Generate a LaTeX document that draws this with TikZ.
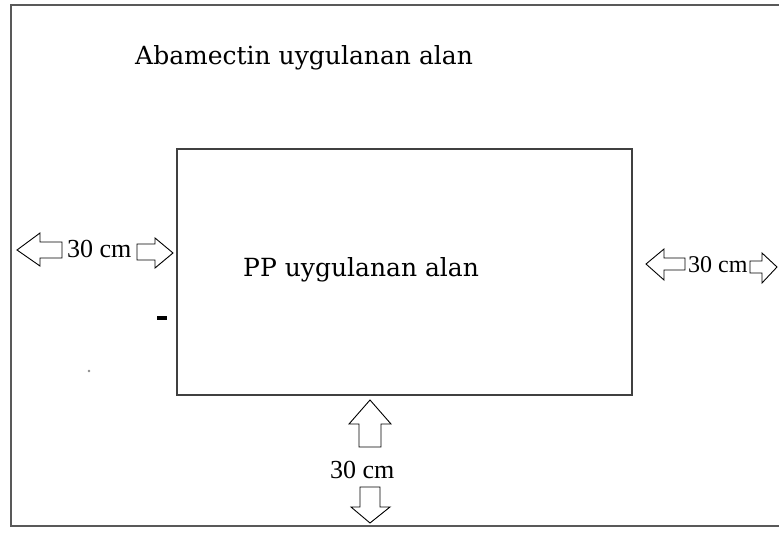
\documentclass[tikz,border=0pt]{standalone}
\usepackage{fontspec}
\setmainfont{Liberation Serif}
\newfontfamily\areafont{DejaVu Serif}
\begin{document}
\begin{tikzpicture}[x=1pt,y=-1pt,
  frame/.style={draw=black!65,line width=2.4pt},
  plot/.style={draw=black!75,line width=2pt},
  blockarrow/.style={draw=black,fill=white,line width=0.9pt,line join=miter},
  arealabel/.style={anchor=base west,inner sep=0pt,font=\areafont\fontsize{25}{30}\selectfont},
  distlabel/.style={anchor=base west,inner sep=0pt,font=\fontsize{26}{30}\selectfont}]
\useasboundingbox (0,0) rectangle (779,534);
\fill[white] (0,0) rectangle (779,534);

% treated field (outer) and the PP plot (inner)
\draw[frame] (11,5) rectangle (790,526);
\draw[plot] (177,149) rectangle (632,395);

\node[arealabel] (outer) at (135,65) {Abamectin uygulanan alan};
\node[arealabel] (inner) at (243,277) {PP uygulanan alan};

% left gap: 30 cm between the two borders
\draw[blockarrow] (62,242) -- (40,242) -- (40,233) -- (17,250) -- (40,266) -- (40,258) -- (62,258) -- cycle;
\node[distlabel] (dleft) at (67,258) {30 cm};
\draw[blockarrow] (137,244) -- (155,244) -- (155,238) -- (173,253) -- (155,268) -- (155,260) -- (137,260) -- cycle;

% right gap
\draw[blockarrow] (685,258) -- (664,258) -- (664,249) -- (646,264) -- (664,280) -- (664,270) -- (685,270) -- cycle;
\node[distlabel,font=\fontsize{24}{28}\selectfont] (dright) at (688,273) {30 cm};
\draw[blockarrow] (750,261) -- (762,261) -- (762,253) -- (777,267) -- (762,283) -- (762,273) -- (750,273) -- cycle;

% bottom gap
\draw[blockarrow] (359,447) -- (359,424) -- (349,424) -- (370,400) -- (391,424) -- (381,424) -- (381,447) -- cycle;
\node[distlabel] (dbottom) at (330,478) {30 cm};
\draw[blockarrow] (360,487) -- (360,507) -- (351,507) -- (370,523) -- (390,507) -- (380,507) -- (380,487) -- cycle;

% stray marks
\fill[black] (157,316.5) rectangle (167,320);
\fill[black!45] (89,371) circle (1.3);
\end{tikzpicture}
\end{document}
